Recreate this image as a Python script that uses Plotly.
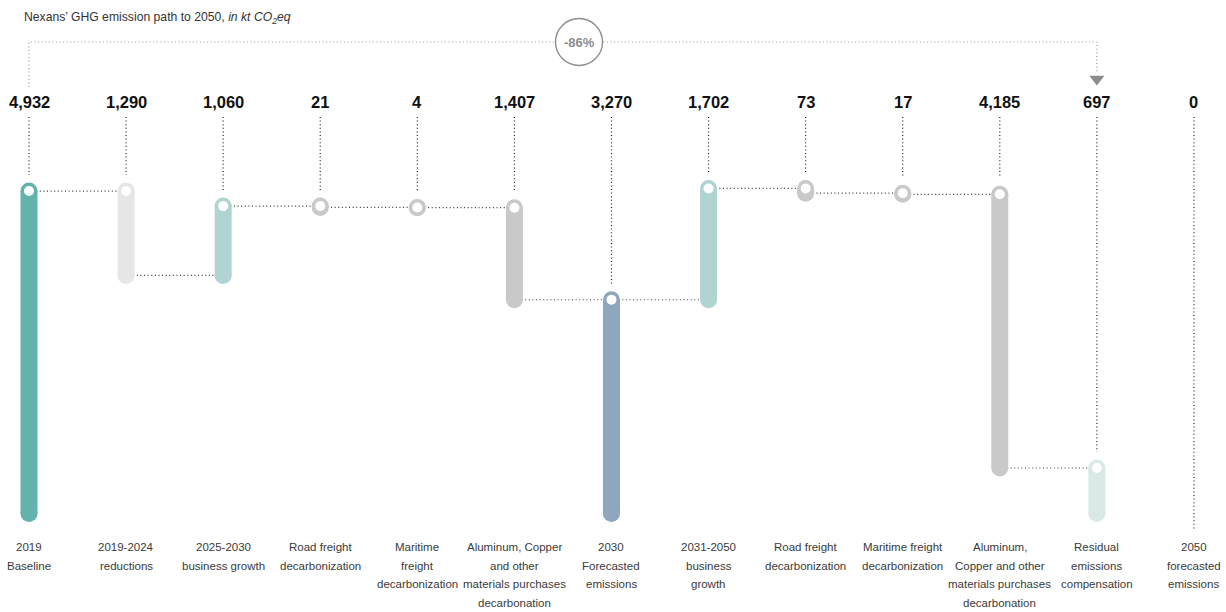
import plotly.graph_objects as go

# ---------------- data ----------------
categories = [
    "2019<br>Baseline",
    "2019-2024<br>reductions",
    "2025-2030<br>business growth",
    "Road freight<br>decarbonization",
    "Maritime<br>freight<br>decarbonization",
    "Aluminum, Copper<br>and other<br>materials purchases<br>decarbonation",
    "2030<br>Forecasted<br>emissions",
    "2031-2050<br>business<br>growth",
    "Road freight<br>decarbonization",
    "Maritime freight<br>decarbonization",
    "Aluminum,<br>Copper and other<br>materials purchases<br>decarbonation",
    "Residual<br>emissions<br>compensation",
    "2050<br>forecasted<br>emissions",
]
values = [4932, 1290, 1060, 21, 4, 1407, 3270, 1702, 73, 17, 4185, 697, 0]
kinds = ["total", "decrease", "increase", "decrease", "decrease", "decrease",
         "total", "increase", "decrease", "decrease", "decrease", "decrease", "total"]
value_labels = ["4,932", "1,290", "1,060", "21", "4", "1,407", "3,270",
                "1,702", "73", "17", "4,185", "697", "0"]
reduction_label = "-86%"
title_text = "Nexans’ GHG emission path to 2050, <i>in kt CO<sub>2</sub>eq</i>"

# ---------------- styles ----------------
bar_colors = ["#63b3ad", "#e6e6e6", "#b0d4d2", "#c9c9c9", "#c9c9c9", "#c9c9c9",
              "#8ea6be", "#b0d4d2", "#c9c9c9", "#c9c9c9", "#c9c9c9", "#d8e9e8", "#c9c9c9"]
FONT = "Liberation Sans, Arial, sans-serif"
W, H = 1226, 612
PX0 = 513.6      # pixel row of value 0
K = 0.0654       # pixels per kt
X0PX, DX = 29.0, 97.08
BAR_W = 17
DOT = 10
DOTS = "1px,2.6px"
CONN = "#3a3a3a"
GREY = "#8c8c8c"


def ypx(p):
    """pixel row -> data value"""
    return (PX0 - p) / K


def xpx(p):
    """pixel column -> data x"""
    return (p - X0PX) / DX


def dpx(n):
    return n / K


# ---------------- waterfall levels ----------------
starts, ends = [], []
level = 0
for v, k in zip(values, kinds):
    if k == "total":
        s, e = 0, v
        level = v
    elif k == "decrease":
        s, e = level, level - v
        level = e
    else:
        s, e = level, level + v
        level = e
    starts.append(s)
    ends.append(e)

xs = list(range(len(values)))
fig = go.Figure()

# horizontal dotted connectors
for i in range(len(values) - 1):
    if kinds[i + 1] == "total" and values[i + 1] == 0:
        continue
    lvl = ends[i]
    fig.add_trace(go.Scatter(x=[xs[i], xs[i + 1]], y=[lvl, lvl], mode="lines",
                             line=dict(color=CONN, width=1.2, dash=DOTS),
                             hoverinfo="skip"))

# vertical dotted lines from the value labels
for i, v in enumerate(values):
    top = max(starts[i], ends[i])
    if values[i] == 0 and kinds[i] == "total":
        y_end = ypx(529)
    else:
        y_end = top + dpx(16)
    fig.add_trace(go.Scatter(x=[xs[i], xs[i]], y=[ypx(117), y_end], mode="lines",
                             line=dict(color="#222222", width=1.2, dash=DOTS),
                             hoverinfo="skip"))

# bars with round caps and white dots
for i, v in enumerate(values):
    if v == 0:
        continue
    lo, hi = min(starts[i], ends[i]), max(starts[i], ends[i])
    fig.add_trace(go.Scatter(x=[xs[i], xs[i]], y=[lo, hi], mode="lines+markers",
                             line=dict(color=bar_colors[i], width=BAR_W),
                             marker=dict(color=bar_colors[i], size=BAR_W, line=dict(width=0)),
                             hoverinfo="skip"))
    fig.add_trace(go.Scatter(x=[xs[i]], y=[hi], mode="markers",
                             marker=dict(color="white", size=DOT, line=dict(width=0)),
                             hoverinfo="skip"))

# -86% bracket
br_y = ypx(42)
fig.add_trace(go.Scatter(x=[xs[0], xs[0], xs[11], xs[11]],
                         y=[ypx(87), br_y, br_y, ypx(72)], mode="lines",
                         line=dict(color="#9a9a9a", width=1.2, dash=DOTS),
                         hoverinfo="skip"))
fig.add_trace(go.Scatter(x=[xs[11]], y=[ypx(79)], mode="markers",
                         marker=dict(symbol="triangle-down", size=13, color=GREY,
                                     line=dict(width=0)),
                         hoverinfo="skip"))
cx = xpx(579)
r = 23.5
fig.add_shape(type="circle", xref="x", yref="y",
              x0=cx - r / DX, x1=cx + r / DX, y0=br_y - dpx(r), y1=br_y + dpx(r),
              line=dict(color=GREY, width=1.4), fillcolor="white", layer="above")
fig.add_annotation(x=cx, y=br_y, text="<b>" + reduction_label + "</b>", showarrow=False,
                   font=dict(family=FONT, size=13, color=GREY),
                   xanchor="center", yanchor="middle")

# value labels
for i, t in enumerate(value_labels):
    fig.add_annotation(x=xs[i], y=ypx(102), text="<b>" + t + "</b>", showarrow=False,
                       font=dict(family=FONT, size=16.5, color="#111111"),
                       xanchor="center", yanchor="middle")

# category labels, one annotation per line
for i, c in enumerate(categories):
    for j, line in enumerate(c.split("<br>")):
        fig.add_annotation(x=xs[i], y=ypx(547 + 18.7 * j), text=line, showarrow=False,
                           font=dict(family=FONT, size=11.5, color="#3a3a3a"),
                           xanchor="center", yanchor="middle")

# title
fig.add_annotation(xref="paper", yref="paper", x=22 / W, y=1 - 18 / H,
                   text=title_text, showarrow=False,
                   font=dict(family=FONT, size=12.2, color="#333333"),
                   xanchor="left", yanchor="middle")

fig.update_layout(
    width=W, height=H, margin=dict(l=0, r=0, t=0, b=0),
    paper_bgcolor="white", plot_bgcolor="white", showlegend=False,
    xaxis=dict(range=[xpx(0), xpx(W)], visible=False, fixedrange=True),
    yaxis=dict(range=[ypx(H), ypx(0)], visible=False, fixedrange=True),
)

fig.write_html(
    "out.html",
    config={"displayModeBar": False},
    post_script="document.body.style.margin='0';document.body.style.overflow='hidden';",
)
